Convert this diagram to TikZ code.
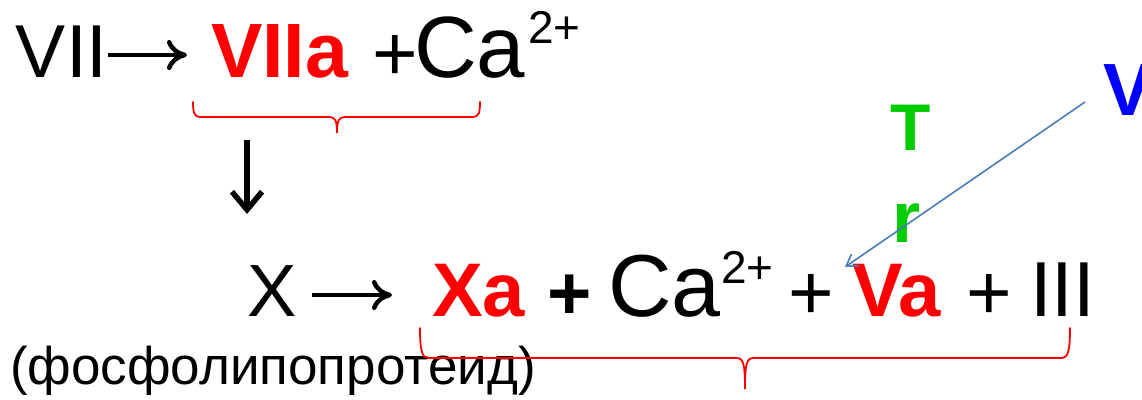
\documentclass[tikz,border=0pt]{standalone}
\usepackage{fontspec}
\setmainfont{Liberation Sans}
\usetikzlibrary{arrows.meta}
\definecolor{rd}{RGB}{255,0,0}
\definecolor{gr}{RGB}{0,204,0}
\definecolor{bl}{RGB}{0,0,255}
\definecolor{ab}{RGB}{74,126,187}
\newcommand\fsz[1]{\fontsize{#1}{#1}\selectfont}
\begin{document}
\begin{tikzpicture}[x=1pt,y=-1pt,
  txt/.style={inner sep=0pt,outer sep=0pt,anchor=base west},
  big/.style={txt,font={\fsz{75}}},
  bigca/.style={txt,font={\fsz{87}}},
  sup/.style={txt,font={\fsz{46}}},
  redb/.style={txt,text=rd,font={\bfseries\fsz{77}}},
  reacarrow/.style={line width=4.5pt,-{Computer Modern Rightarrow[length=20pt,width=30pt]}},
  downarrow/.style={line width=5.5pt,-{Straight Barb[length=18pt,width=30pt]}},
  bluearrow/.style={draw=ab,line width=1.6pt,-{Straight Barb[length=11pt,width=14pt]}},
  brace/.style={draw=rd,line width=1.8pt,line cap=round}]
\useasboundingbox (0,0) rectangle (1142,399);
\clip (0,0) rectangle (1142,399);
% top row
\node[big] (vii) at (16,77) {VII};
\node[redb] (viia) at (211,77) {VIIa};
\node[big,font={\fsz{78}}] (plus1) at (372,80) {+};
\node[bigca] (ca1) at (414,77) {Ca};
\node[sup] (sup1) at (528,43) {2+};
\coordinate (a1s) at (108,55);
\coordinate (a1e) at (187,55);
\draw[reacarrow] (a1s) -- (a1e);
% top brace
\draw[brace] (193,102) .. controls (193,112) and (194,117) .. (200,117) -- (329,117)
  .. controls (335,117) and (337,120) .. (337,133)
  .. controls (337,120) and (339,117) .. (345,117) -- (473,117)
  .. controls (479,117) and (480,112) .. (480,102);
% down arrow
\coordinate (ds) at (247,140);
\coordinate (de) at (247,214);
\draw[downarrow] (ds) -- (de);
% bottom row
\node[big,font={\fsz{74}}] (x) at (247,316) {X};
\coordinate (a2s) at (312,295);
\coordinate (a2e) at (392,295);
\draw[reacarrow] (a2s) -- (a2e);
\node[redb,font={\bfseries\fsz{76}}] (xa) at (432,316) {Xa};
\node[txt,font={\bfseries\fsz{76}}] (plus2) at (547,319) {+};
\node[bigca,font={\fsz{88}}] (ca2) at (608,316) {Ca};
\node[sup] (sup2) at (721,283) {2+};
\node[big,font={\fsz{78}}] (plus3) at (788,319) {+};
\node[redb,font={\bfseries\fsz{76}}] (va) at (852,316) {Va};
\node[big,font={\fsz{78}}] (plus4) at (966,319) {+};
\node[big,font={\fsz{78}}] (iii) at (1030,316) {III};
\node[txt,font={\fsz{53}}] (fos) at (10,384) {(фосфолипопротеид)};
% bottom brace
\draw[brace] (420,328) .. controls (420,350) and (422,358) .. (428,358) -- (736,358)
  .. controls (743,358) and (745,362) .. (745,389)
  .. controls (745,362) and (747,358) .. (754,358) -- (1062,358)
  .. controls (1068,358) and (1070,350) .. (1070,328);
% green T r and blue V
\node[txt,text=gr,font={\bfseries\fsz{66}}] (t) at (890,150) {T};
\node[txt,text=gr,font={\bfseries\fsz{72}}] (r) at (892,242) {r};
\node[txt,text=bl,font={\bfseries\fsz{74}}] (v) at (1103,115) {V};
\coordinate (bs) at (1085,102);
\coordinate (be) at (845,267);
\draw[bluearrow] (bs) -- (be);
\end{tikzpicture}
\end{document}
